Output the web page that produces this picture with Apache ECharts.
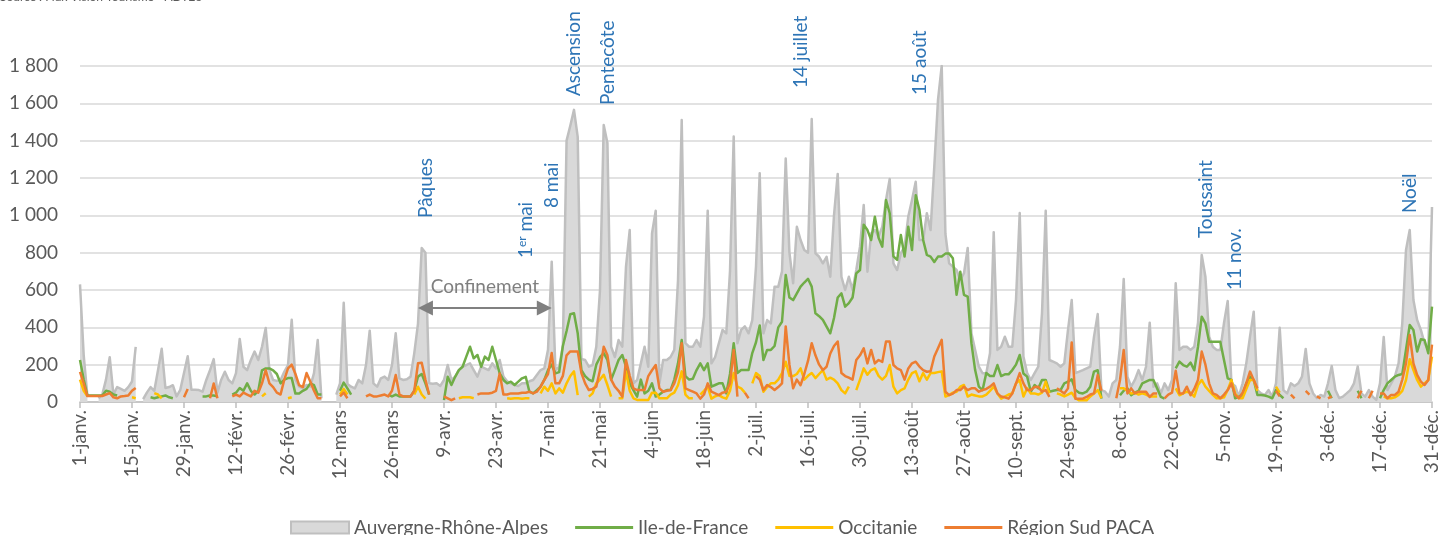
<!DOCTYPE html>
<html><head><meta charset="utf-8">
<script src="https://cdn.jsdelivr.net/npm/echarts@6/dist/echarts.min.js"></script>
<style>html,body{margin:0;padding:0;background:#fff}#c{width:1444px;height:535px}</style>
</head><body><div id="c"></div>
<script>
const monthNames = ['janv.','févr.','mars','avr.','mai','juin','juil.','août','sept.','oct.','nov.','déc.'];
const monthDays = [31,28,31,30,31,30,31,31,30,31,30,31];
const seriesNames = ['Auvergne-Rhône-Alpes','Ile-de-France','Occitanie','Région Sud PACA'];
const _ = null;

const aura = [
630,250,30,_,_,20,40,120,240,40,
80,70,60,80,110,295,_,15,50,80,
60,170,285,75,80,90,30,65,155,245,
65,65,64,55,118,170,230,50,118,162,
118,100,155,338,189,171,225,270,225,296,
396,171,118,113,118,162,198,440,118,82,
73,91,82,155,332,20,_,_,_,40,
100,532,97,82,73,118,100,198,382,100,
82,127,136,118,198,368,127,118,122,136,
262,420,825,800,100,98,100,86,118,198,
118,136,171,189,198,207,171,136,189,180,
171,207,180,225,136,111,100,91,86,100,
100,111,118,145,171,180,280,752,171,189,
300,1400,1480,1565,1420,230,225,189,198,296,
600,1484,1388,296,241,332,296,725,921,100,
118,207,296,189,903,1025,100,225,225,241,
279,650,1511,315,296,296,332,296,457,1025,
207,241,315,386,368,700,1422,315,386,405,
368,439,725,1226,368,439,421,618,618,700,
1304,800,636,939,868,814,800,1516,797,778,
743,778,671,1000,1222,671,600,671,600,707,
832,1055,698,903,921,886,939,1082,1195,743,
707,797,832,993,1082,1180,868,868,1011,921,
1261,1618,1800,900,743,725,707,654,690,825,
368,279,189,154,154,261,910,279,296,350,
296,296,546,1012,243,155,118,155,189,476,
1024,225,216,207,189,207,386,546,155,163,
171,180,189,350,471,64,55,29,100,118,
296,659,136,82,118,171,118,189,425,82,
100,46,100,64,118,636,279,296,296,279,
296,423,788,671,350,296,279,279,423,541,
100,86,29,100,207,350,484,64,46,38,
64,29,100,398,64,46,100,86,100,136,
284,100,46,21,38,29,100,193,64,21,
29,46,64,100,190,46,29,64,29,11,
100,348,64,100,136,207,423,814,922,546,
439,386,314,279,1045
];

const idf = [
225,120,35,35,35,35,35,60,55,40,
35,_,_,_,_,_,_,_,_,25,
20,25,30,35,25,20,_,_,_,_,
_,_,_,30,30,35,35,30,_,_,
_,40,50,75,60,100,60,40,60,170,
180,180,170,150,100,120,128,128,45,45,
60,70,100,90,40,40,_,_,_,_,
60,104,73,40,_,_,_,_,_,_,
_,_,_,40,30,40,30,30,30,30,
60,136,150,100,40,_,_,_,10,135,
91,135,171,189,243,296,234,252,189,243,
225,296,225,153,118,100,109,91,109,127,
135,55,46,64,82,118,171,200,153,160,
300,380,470,475,368,171,139,120,111,200,
240,262,225,120,171,225,252,189,100,64,
29,120,46,60,100,29,40,55,64,64,
120,207,332,139,120,125,171,207,171,207,
82,91,100,100,46,150,315,155,171,171,
171,262,320,410,225,279,279,300,400,430,
680,560,546,582,618,640,660,618,475,460,
440,404,368,450,560,582,511,530,560,689,
707,950,921,868,993,880,832,1082,1011,780,
761,895,779,939,814,1108,1029,868,788,779,
750,779,779,795,795,770,574,698,574,564,
315,171,82,64,155,139,139,198,139,148,
148,171,200,252,153,136,55,91,73,118,
118,55,60,64,64,100,109,121,64,50,
46,55,82,163,170,18,_,_,_,_,
36,60,73,36,50,60,100,109,118,118,
73,27,18,_,_,180,216,198,189,211,
170,296,457,421,323,323,323,323,225,127,
118,20,29,38,100,136,118,38,38,35,
29,20,64,38,20,_,_,_,_,_,
_,_,_,_,_,_,60,20,_,_,
_,_,_,_,60,20,_,_,_,_,
20,64,100,118,136,145,150,280,413,386,
270,336,332,261,511
];

const occ = [
120,60,30,_,_,_,_,_,_,_,
_,_,_,_,25,20,_,_,_,_,
48,40,20,_,_,_,_,_,_,_,
_,_,_,_,_,_,_,_,_,_,
_,_,_,_,_,_,_,_,_,30,
47,_,_,_,_,_,20,25,_,_,
_,_,_,_,_,_,_,_,_,_,
40,70,40,_,_,_,_,_,_,_,
_,_,_,_,_,_,_,_,_,_,
40,82,40,18,_,_,_,_,_,_,
_,_,20,25,25,25,20,_,_,_,
_,_,_,_,_,20,18,20,20,18,
20,20,_,_,46,82,60,100,46,73,
50,100,139,164,37,_,_,29,46,100,
120,146,91,29,_,20,20,164,60,20,
11,11,11,11,50,50,20,20,20,40,
50,90,164,40,20,20,_,40,60,82,
18,30,37,25,18,60,155,82,73,50,
_,100,155,139,55,80,100,100,120,155,
216,139,139,150,180,120,140,155,128,150,
171,120,130,120,100,64,46,82,_,64,
120,180,146,171,180,140,120,140,198,82,
46,64,73,120,155,164,111,155,120,155,
155,160,164,29,37,50,55,82,91,29,
40,35,30,30,40,60,82,46,18,29,
40,46,100,118,29,73,46,46,40,50,
109,46,_,46,40,30,40,50,20,9,
9,9,30,45,64,20,_,_,_,_,
73,73,60,46,50,40,46,40,30,30,
30,_,_,_,_,73,36,46,55,50,
29,91,118,82,60,38,20,20,25,64,
118,46,20,20,70,118,118,60,_,_,
_,_,82,50,_,_,_,_,_,_,
_,_,_,_,_,_,_,_,_,_,
_,_,_,_,_,_,_,_,_,_,
_,30,20,20,25,38,60,118,229,171,
118,82,100,118,243
];

const paca = [
162,100,32,32,32,32,32,40,48,25,
20,30,32,35,60,75,_,_,_,_,
_,_,_,_,_,_,_,_,25,70,
_,_,_,_,_,20,99,20,_,_,
_,30,40,30,50,40,30,60,50,100,
171,100,80,50,40,120,180,200,150,90,
80,155,110,60,20,20,_,_,_,_,
30,50,20,_,_,_,_,30,40,30,
30,35,40,30,60,145,40,30,30,30,
60,207,210,120,40,_,_,_,30,20,
10,20,_,_,_,_,_,40,46,46,
46,50,60,153,40,40,46,46,46,50,
50,55,46,55,82,118,150,262,100,100,
140,250,271,271,271,155,100,64,70,82,
171,296,250,120,82,60,29,225,140,73,
64,64,64,139,170,198,73,55,60,64,
100,160,315,73,64,55,46,18,40,100,
55,46,37,50,55,100,279,29,_,50,
20,_,139,120,64,91,80,64,80,100,
405,200,73,120,90,150,220,315,250,200,
171,189,260,300,324,155,139,130,120,225,
250,288,207,279,207,225,215,324,324,198,
180,171,120,180,207,216,190,171,162,165,
244,288,333,55,37,45,64,64,82,64,
73,73,55,64,70,82,100,46,29,25,
18,46,100,155,100,64,64,80,82,55,
64,27,_,73,60,46,73,319,18,18,
18,27,40,46,145,60,_,_,_,20,
118,279,46,73,46,55,55,55,27,46,
46,_,20,40,50,167,46,46,82,36,
70,118,270,200,100,46,38,20,40,64,
100,38,20,50,100,163,118,73,_,_,
_,_,60,30,_,_,40,20,_,_,
60,40,_,30,20,_,20,30,_,_,
_,_,_,_,20,60,_,20,60,_,
46,46,20,38,38,55,120,207,359,207,
145,109,91,118,307
];

[aura, idf, occ, paca].forEach((a, i) => { if (a.length !== 365) throw new Error(seriesNames[i] + ' length ' + a.length); });

const categories = [];
monthDays.forEach((n, m) => { for (let d = 1; d <= n; d++) categories.push(d + '-' + monthNames[m]); });

// annotations: text, day index, value where text starts
const holidayNames = ['Pâques','1er mai','8 mai','Ascension','Pentecôte','14 juillet','15 août','Toussaint','11 nov.','Noël'];
const holidayDays  = [93, 120, 127, 133, 142, 194, 226, 303, 311, 358];
const holidayLevel = [986, 771, 1039, 1639, 1591, 1682, 1645, 878, 600, 1012];
const confinementDays = [93, 125];
const confinementLevel = 504;

const FONT = 'Lato, "Open Sans", sans-serif';
const GREY_TXT = '#595959';
const BLUE = '#2e75b6';
const LINE_ICON = 'path://M0,0L60,0L60,3.2L0,3.2Z';

const chart = echarts.init(document.getElementById('c'), null, {renderer: 'canvas'});

const fmtY = v => v >= 1000 ? Math.floor(v / 1000) + '\u00a0' + String(v % 1000).padStart(3, '0') : String(v);

const holidayPoints = holidayNames.map((t, i) => {
  const isMai = t === '1er mai';
  return {
    coord: [categories[holidayDays[i]], holidayLevel[i]],
    value: t,
    label: isMai ? {
      formatter: '{n|1}{s|er}{n| mai}',
      rich: {
        n: {fontSize: 19, color: BLUE, fontFamily: FONT},
        s: {fontSize: 12, color: BLUE, fontFamily: FONT, verticalAlign: 'top', padding: [0, 0, 8, 0]}
      }
    } : {formatter: t}
  };
});

chart.setOption({
  animation: false,
  textStyle: {fontFamily: FONT},
  grid: {left: 80, right: 12, top: 66, bottom: 133, containLabel: false},
  graphic: [{
    type: 'text', left: 0, top: -9,
    style: {text: 'Source : Flux Vision Tourisme - ADT26', fill: GREY_TXT, font: '12px ' + FONT}
  }],
  legend: {
    left: 290, top: 518, padding: 0, itemWidth: 58, itemHeight: 12, itemGap: 27,
    symbolKeepAspect: true,
    textStyle: {color: GREY_TXT, fontSize: 19, fontFamily: FONT},
    data: [
      {name: seriesNames[0], icon: 'rect', itemStyle: {color: '#d9d9d9', borderColor: '#bfbfbf', borderWidth: 2}},
      {name: seriesNames[1], icon: LINE_ICON, itemStyle: {color: '#70ad47', borderWidth: 0}},
      {name: seriesNames[2], icon: LINE_ICON, itemStyle: {color: '#ffc000', borderWidth: 0}},
      {name: seriesNames[3], icon: LINE_ICON, itemStyle: {color: '#ed7d31', borderWidth: 0}}
    ]
  },
  xAxis: {
    type: 'category', data: categories, boundaryGap: false,
    axisLine: {lineStyle: {color: '#bfbfbf', width: 1.5}},
    axisTick: {show: true, interval: 13, length: 6, lineStyle: {color: '#bfbfbf', width: 1.5}},
    axisLabel: {interval: 13, rotate: 90, margin: 8, color: GREY_TXT, fontSize: 19, fontFamily: FONT},
    splitLine: {show: false}
  },
  yAxis: {
    type: 'value', min: 0, max: 1800, interval: 200,
    axisLine: {show: false}, axisTick: {show: false},
    axisLabel: {formatter: fmtY, color: GREY_TXT, fontSize: 19, fontFamily: FONT, margin: 22},
    splitLine: {lineStyle: {color: '#d9d9d9', width: 1.5}}
  },
  series: [
    {
      name: seriesNames[0], type: 'line', data: aura, symbol: 'none', connectNulls: false,
      lineStyle: {color: '#bfbfbf', width: 2.5, join: 'round'},
      itemStyle: {color: '#d9d9d9'},
      areaStyle: {color: '#d9d9d9', opacity: 1},
      z: 1,
      markLine: {
        silent: true, symbol: ['triangle', 'triangle'], symbolSize: [15, 15],
        lineStyle: {color: '#808080', width: 2, type: 'solid'},
        label: {show: true, position: 'insideMiddleTop', formatter: 'Confinement', color: '#7f7f7f', fontSize: 19, fontFamily: FONT, distance: 12},
        data: [[{coord: [categories[confinementDays[0]], confinementLevel]}, {coord: [categories[confinementDays[1]], confinementLevel]}]]
      },
      markPoint: {
        silent: true, symbol: 'circle', symbolSize: 1, itemStyle: {color: 'rgba(0,0,0,0)'},
        label: {show: true, position: 'inside', rotate: 90, align: 'left', verticalAlign: 'middle', color: BLUE, fontSize: 19, fontFamily: FONT},
        data: holidayPoints
      }
    },
    {name: seriesNames[1], type: 'line', data: idf, symbol: 'none', connectNulls: false, itemStyle: {color: '#70ad47'}, lineStyle: {color: '#70ad47', width: 2.5, join: 'round'}, z: 2},
    {name: seriesNames[2], type: 'line', data: occ, symbol: 'none', connectNulls: false, itemStyle: {color: '#ffc000'}, lineStyle: {color: '#ffc000', width: 2.5, join: 'round'}, z: 3},
    {name: seriesNames[3], type: 'line', data: paca, symbol: 'none', connectNulls: false, itemStyle: {color: '#ed7d31'}, lineStyle: {color: '#ed7d31', width: 2.5, join: 'round'}, z: 4}
  ]
});
</script>
</body></html>
